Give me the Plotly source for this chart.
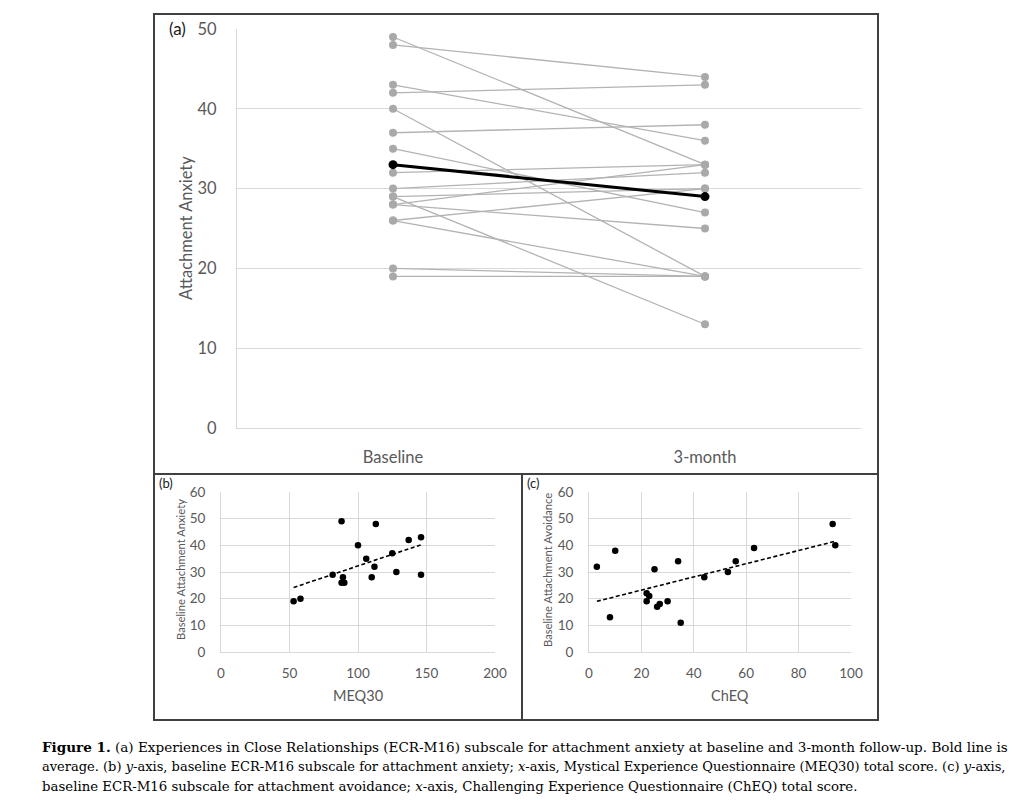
import numpy as np
import plotly.graph_objects as go

W, H = 1024, 800

# ---------------- data ----------------
timepoints = ["Baseline", "3-month"]
anx_baseline = [49, 48, 43, 42, 40, 37, 35, 32, 30, 29, 29, 28, 28, 26, 26, 20, 19]
anx_3month = [33, 44, 36, 43, 19, 38, 27, 33, 32, 30, 13, 33, 25, 30, 19, 19, 19]

meq30 = [53, 58, 81.5, 88, 88, 89, 90, 100, 106, 113, 112, 110, 125, 128, 137, 146, 146]
base_anx = [19, 20, 29, 49, 26, 28, 26, 40, 35, 48, 32, 28, 37, 30, 42, 43, 29]

cheq = [3, 8, 10, 22, 23, 22, 25, 26, 27, 30, 34, 35, 44, 53, 56, 63, 93, 94]
base_avoid = [32, 13, 38, 22, 21, 19, 31, 17, 18, 19, 34, 11, 28, 30, 34, 39, 48, 40]

caption_lines = [
    "<b>Figure 1.</b> (a) Experiences in Close Relationships (ECR-M16) subscale for attachment anxiety at baseline and 3-month follow-up. Bold line is",
    "average. (b) <i>y</i>-axis, baseline ECR-M16 subscale for attachment anxiety; <i>x</i>-axis, Mystical Experience Questionnaire (MEQ30) total score. (c) <i>y</i>-axis,",
    "baseline ECR-M16 subscale for attachment avoidance; <i>x</i>-axis, Challenging Experience Questionnaire (ChEQ) total score.",
]
caption_sizes = [13.55, 13.0, 13.3]

# ---------------- helpers ----------------
def X(px):
    return px / W

def Y(py):
    return 1 - py / H

GRID = "#d9d9d9"
TXT = "#595959"
FONT = "Lato"
GRAYLINE = "#b3b3b3"
GRAYMARK = "#a9a9a9"

fig = go.Figure()

# Panel (a): individual trajectories
for b, m in zip(anx_baseline, anx_3month):
    fig.add_trace(go.Scatter(
        x=timepoints, y=[b, m], mode="lines+markers",
        line=dict(color=GRAYLINE, width=1.3),
        marker=dict(color=GRAYMARK, size=8),
        xaxis="x", yaxis="y", showlegend=False, hoverinfo="skip"))

# Mean line
fig.add_trace(go.Scatter(
    x=timepoints, y=[np.mean(anx_baseline), np.mean(anx_3month)],
    mode="lines+markers", line=dict(color="black", width=3),
    marker=dict(color="black", size=9),
    xaxis="x", yaxis="y", showlegend=False))

# Panel (b)
fig.add_trace(go.Scatter(x=meq30, y=base_anx, mode="markers",
                         marker=dict(color="black", size=6.5),
                         xaxis="x2", yaxis="y2", showlegend=False))
cb = np.polyfit(meq30, base_anx, 1)
xb = np.array([min(meq30), max(meq30)])
fig.add_trace(go.Scatter(x=xb, y=np.polyval(cb, xb), mode="lines",
                         line=dict(color="black", width=1.6, dash="4px,2.5px"),
                         xaxis="x2", yaxis="y2", showlegend=False))

# Panel (c)
fig.add_trace(go.Scatter(x=cheq, y=base_avoid, mode="markers",
                         marker=dict(color="black", size=6.5),
                         xaxis="x3", yaxis="y3", showlegend=False))
cc = np.polyfit(cheq, base_avoid, 1)
xc = np.array([min(cheq), max(cheq)])
fig.add_trace(go.Scatter(x=xc, y=np.polyval(cc, xc), mode="lines",
                         line=dict(color="black", width=1.6, dash="4px,2.5px"),
                         xaxis="x3", yaxis="y3", showlegend=False))

def yax(domain, rng, dtick, size, anchor, standoff):
    return dict(domain=domain, range=rng, dtick=dtick, showgrid=True, gridcolor=GRID,
                gridwidth=1, zeroline=False, showline=True, linecolor=GRID, linewidth=1,
                ticks="", tickfont=dict(family=FONT, size=size, color=TXT),
                anchor=anchor, fixedrange=True, ticklabelstandoff=standoff)

def xax(domain, rng, dtick, size, anchor, standoff, grid=True):
    return dict(domain=domain, range=rng, dtick=dtick, showgrid=grid, gridcolor=GRID,
                gridwidth=1, zeroline=False, showline=True, linecolor=GRID, linewidth=1,
                ticks="", tickfont=dict(family=FONT, size=size, color=TXT),
                anchor=anchor, fixedrange=True, ticklabelstandoff=standoff)

xa = xax([X(237), X(861)], [-0.5, 1.5], None, 16.5, "y", 14, grid=False)
xa.update(type="category", categoryorder="array", categoryarray=timepoints)
xa.pop("dtick")

fig.update_layout(
    autosize=True, margin=dict(l=0, r=0, t=0, b=0, autoexpand=False),
    paper_bgcolor="white", plot_bgcolor="white",
    xaxis=xa,
    yaxis=yax([Y(428), Y(29)], [0, 50], 10, 16.5, "x", 16),
    xaxis2=xax([X(221), X(495)], [0, 200], 50, 13.5, "y2", 9),
    yaxis2=yax([Y(652), Y(492)], [0, 60], 10, 13.5, "x2", 12),
    xaxis3=xax([X(589), X(851)], [0, 100], 20, 13.5, "y3", 9),
    yaxis3=yax([Y(652), Y(492)], [0, 60], 10, 13.5, "x3", 12),
)

# Frames
BORDER = "#404040"
shapes = [
    dict(type="rect", xref="paper", yref="paper", x0=X(154), x1=X(878), y0=Y(474), y1=Y(14),
         line=dict(color=BORDER, width=2)),
    dict(type="rect", xref="paper", yref="paper", x0=X(154), x1=X(878), y0=Y(720), y1=Y(474),
         line=dict(color=BORDER, width=2)),
    dict(type="line", xref="paper", yref="paper", x0=X(522), x1=X(522), y0=Y(720), y1=Y(474),
         line=dict(color=BORDER, width=2)),
]
fig.update_layout(shapes=shapes)

ann = []
def text(px, py, s, size, color=TXT, angle=0, xanchor="center", family=FONT):
    ann.append(dict(x=X(px), y=Y(py), xref="paper", yref="paper", text=s, showarrow=False,
                    font=dict(family=family, size=size, color=color), textangle=angle,
                    xanchor=xanchor, yanchor="middle"))

text(177, 28, "(a)", 17, color="#1a1a1a")
text(166, 483, "(b)", 13, color="#1a1a1a")
text(533, 483, "(c)", 13, color="#1a1a1a")
text(186, 228, "Attachment Anxiety", 16.5, angle=-90)
text(180, 570, "Baseline Attachment Anxiety", 11.2, angle=-90)
text(547, 570, "Baseline Attachment Avoidance", 11.2, angle=-90)
text(358, 695, "MEQ30", 14.5)
text(730, 695, "ChEQ", 14.5)

for i, (line, sz) in enumerate(zip(caption_lines, caption_sizes)):
    text(40, 747 + i * 19.5, line, sz, color="black", xanchor="left", family="DejaVu Serif")

fig.update_layout(annotations=ann)

post = ("document.documentElement.style.overflow='hidden';"
        "document.body.style.margin='0';document.body.style.overflow='hidden';"
        "var gd=document.getElementById('{plot_id}');"
        "gd.style.width='100vw';gd.style.height='100vh';"
        "Plotly.Plots.resize(gd);")

fig.write_html("out.html", default_width="100vw", default_height="100vh",
               config={"displayModeBar": False}, post_script=post)
